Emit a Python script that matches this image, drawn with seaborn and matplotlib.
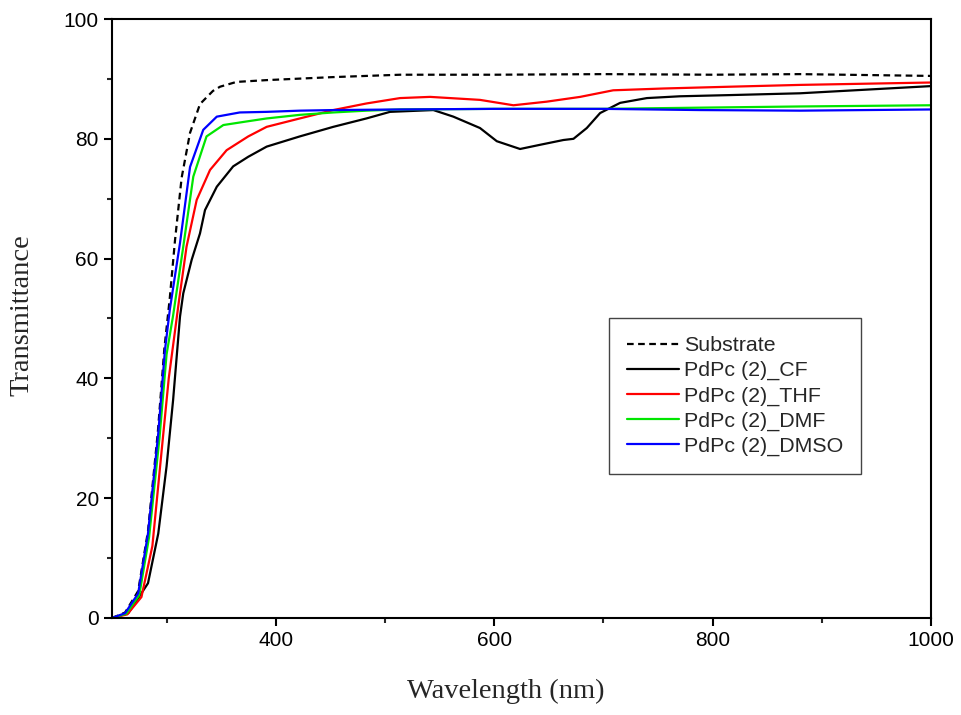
import matplotlib

matplotlib.use("Agg")
import matplotlib.pyplot as plt
import pandas as pd
import seaborn as sns
from matplotlib.ticker import MultipleLocator

# values (wavelength nm, transmittance)
substrate_x = [250, 262, 274, 283, 292, 298, 303, 307.7, 313.8, 321.5, 330.6, 342.5, 349, 364,
               391.7, 452, 514, 600, 700, 800, 880, 1000]
substrate_y = [0, 0.9, 4.5, 14.5, 31, 45, 53.5, 63, 73.5, 81, 85.8, 88, 88.7, 89.5,
               89.8, 90.3, 90.7, 90.7, 90.8, 90.7, 90.8, 90.5]

cf_x = [250, 265, 283, 292.4, 300, 306, 312.3, 315.3, 323, 330.6, 335.2, 346, 361, 374.8, 391.7,
        422, 452.7, 483, 504.6, 544.3, 562.6, 587, 602.4, 623.7, 642, 663.4, 672.6, 684.8, 697,
        715.3, 739.8, 770, 816, 880, 1000]
cf_y = [0, 0.8, 5.8, 14.1, 25.3, 36.4, 50.3, 54.2, 59.8, 64.2, 68.1, 72, 75.4, 77, 78.7,
        80.4, 82, 83.4, 84.5, 84.8, 83.7, 81.8, 79.6, 78.3, 79.0, 79.8, 80, 81.8, 84.3,
        86, 86.8, 87.1, 87.3, 87.6, 88.8]

thf_x = [250, 264, 277, 287, 295, 302, 311.4, 318.3, 327.6, 339.8, 355, 374.8, 391.7, 422, 452.7,
         483, 513.8, 541.3, 587, 617.6, 648, 678.7, 709, 755, 816, 880, 1000]
thf_y = [0, 0.6, 3.5, 12, 27, 40, 53, 62, 69.8, 74.8, 78.1, 80.4, 82, 83.4, 84.8,
         85.9, 86.8, 87.0, 86.5, 85.6, 86.2, 87.0, 88.1, 88.4, 88.7, 89.0, 89.4]

dmf_x = [250, 263, 275, 284, 293.5, 300, 306, 315.3, 324.5, 336.6, 352, 373.4, 391.7, 422, 452.7,
         483, 514, 600, 700, 788, 880, 1000]
dmf_y = [0, 0.7, 3.8, 13.5, 30, 44, 50.5, 62, 73.7, 80.4, 82.3, 82.9, 83.4, 84.0, 84.4,
         84.7, 84.9, 85.0, 85.0, 85.2, 85.4, 85.6]

dmso_x = [250, 262, 274, 283, 292.4, 298.5, 303, 312.3, 321.5, 333.6, 346, 367, 391.7, 422, 452.7,
          514, 600, 700, 788, 880, 1000]
dmso_y = [0, 0.8, 4.1, 14.1, 30.8, 44.7, 51.5, 62.6, 75.3, 81.5, 83.7, 84.4, 84.5, 84.7, 84.8,
          84.9, 85.0, 85.0, 84.8, 84.7, 84.9]

series = [
    ("Substrate", substrate_x, substrate_y, "black", (0, (3, 2))),
    ("PdPc (2)_CF", cf_x, cf_y, "black", "-"),
    ("PdPc (2)_THF", thf_x, thf_y, "#ff0000", "-"),
    ("PdPc (2)_DMF", dmf_x, dmf_y, "#00e600", "-"),
    ("PdPc (2)_DMSO", dmso_x, dmso_y, "#0000ff", "-"),
]

sns.set_style("ticks")
plt.rcParams["font.family"] = ["Liberation Sans", "DejaVu Sans"]

fig = plt.figure(figsize=(9.61, 7.15), dpi=100)
ax = fig.add_axes([0.1165, 0.1357, 0.8523, 0.8377])

for name, xs, ys, color, ls in series:
    df = pd.DataFrame({"wavelength": xs, "T": ys})
    sns.lineplot(data=df, x="wavelength", y="T", ax=ax, color=color, linestyle=ls,
                 linewidth=1.6, label=name)

ax.set_xlim(250, 1000)
ax.set_ylim(0, 100)
ax.xaxis.set_major_locator(MultipleLocator(200))
ax.xaxis.set_minor_locator(MultipleLocator(100))
ax.yaxis.set_major_locator(MultipleLocator(20))
ax.yaxis.set_minor_locator(MultipleLocator(10))
ax.tick_params(which="major", direction="out", length=6, width=1.5, labelsize=15, colors="black",
               top=False, right=False)
ax.tick_params(which="minor", direction="out", length=3.5, width=1.5, top=False, right=False)
for sp in ax.spines.values():
    sp.set_linewidth(1.5)
    sp.set_color("black")
    sp.set_visible(True)

ax.set_xlabel("Wavelength (nm)", family="Liberation Serif", fontsize=20.5)
ax.set_ylabel("Transmittance", family="Liberation Serif", fontsize=20.5)
ax.xaxis.set_label_coords(0.481, -0.102)
ax.yaxis.set_label_coords(-0.095, 0.506)

leg = ax.legend(loc="upper left", bbox_to_anchor=(0.607, 0.501), borderaxespad=0,
                fancybox=False, edgecolor="#444444", framealpha=1, fontsize=15.4,
                handlelength=2.4, labelspacing=0.28, handletextpad=0.25, borderpad=0.85)
leg.get_frame().set_linewidth(1.0)

fig.savefig("out.png", dpi=100)
